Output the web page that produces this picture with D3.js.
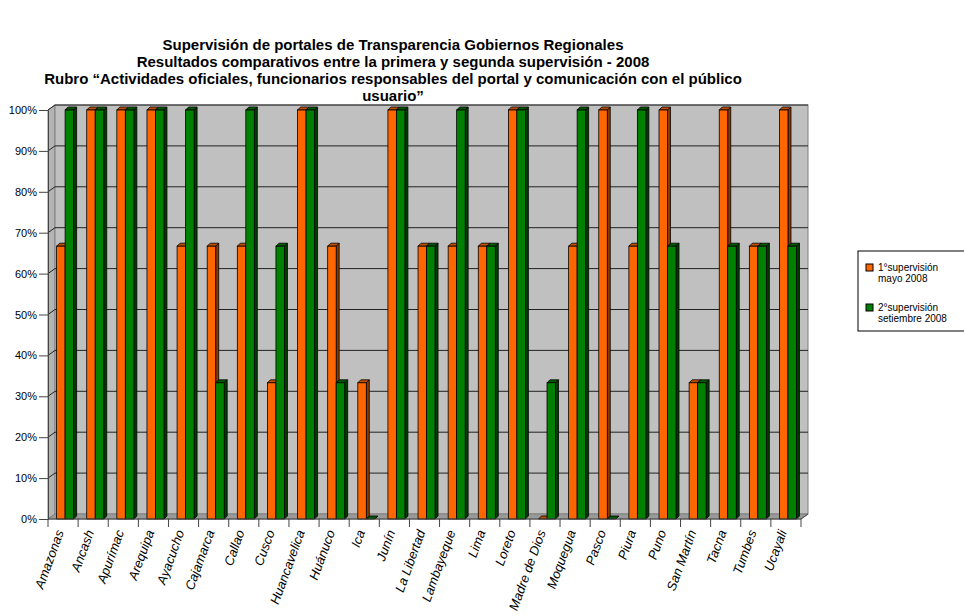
<!DOCTYPE html>
<html>
<head>
<meta charset="utf-8">
<script src="https://cdn.jsdelivr.net/npm/d3@7"></script>
<style>
  body { margin: 0; background: #fff; }
  svg { font-family: Arial, "Liberation Sans", sans-serif; }
</style>
</head>
<body>
<svg width="964" height="616"></svg>
<script>
// data
var regiones = ["Amazonas", "Ancash", "Apurímac", "Arequipa", "Ayacucho", "Cajamarca", "Callao",
  "Cusco", "Huancavelica", "Huánuco", "Ica", "Junín", "La Libertad", "Lambayeque", "Lima",
  "Loreto", "Madre de Dios", "Moquegua", "Pasco", "Piura", "Puno", "San Martín", "Tacna",
  "Tumbes", "Ucayali"];
var primera = [66.7, 100, 100, 100, 66.7, 66.7, 66.7, 33.3, 100, 66.7, 33.3, 100, 66.7, 66.7,
  66.7, 100, 0, 66.7, 100, 66.7, 100, 33.3, 100, 66.7, 100];
var segunda = [100, 100, 100, 100, 100, 33.3, 100, 66.7, 100, 33.3, 0, 100, 66.7, 100,
  66.7, 100, 33.3, 100, 0, 100, 66.7, 33.3, 66.7, 66.7, 66.7];
var seriesNames = ["1°supervisión mayo 2008", "2°supervisión setiembre 2008"];
var yTicks = [0, 10, 20, 30, 40, 50, 60, 70, 80, 90, 100];
var titulo = [
  "Supervisión de portales de Transparencia Gobiernos Regionales",
  "Resultados comparativos entre la primera y segunda supervisión - 2008",
  "Rubro “Actividades oficiales, funcionarios responsables del portal y comunicación con el público",
  "usuario”"
];

var svg = d3.select("svg");
var colors = ["#ff6600", "#008000"];
var sideColors = ["#8a3a00", "#003c00"];
var topColors = ["#c04d00", "#005a00"];

var x0 = 48, x1 = 801, yBottom = 519, yTop = 110;
var dx = 7, dy = -5;      // wall depth
var bdx = 3, bdy = -3;    // bar depth

var x = d3.scaleBand().domain(regiones).range([x0, x1]);
var sub = d3.scaleBand().domain([0, 1]).range([8.6, 25.6]);
var y = d3.scaleLinear().domain([0, 100]).range([yBottom, yTop]);

// title
svg.append("g").selectAll("text")
  .data(titulo)
  .enter().append("text")
    .attr("x", 393)
    .attr("y", function(d, i) { return 50 + i * 17; })
    .attr("text-anchor", "middle")
    .attr("font-weight", "bold")
    .attr("font-size", 15)
    .text(function(d) { return d; });

// walls
var walls = svg.append("g");
// left side wall
walls.append("path")
  .attr("d", "M" + x0 + "," + y(0) + "L" + x0 + "," + y(100) + "L" + (x0 + dx) + "," + (y(100) + dy) +
    "L" + (x0 + dx) + "," + (y(0) + dy) + "Z")
  .attr("fill", "#b4b4b4").attr("stroke", "#808080");
// back wall
walls.append("rect")
  .attr("x", x0 + dx).attr("y", y(100) + dy)
  .attr("width", x1 - x0).attr("height", y(0) - y(100))
  .attr("fill", "#c0c0c0").attr("stroke", "#808080");
// floor
walls.append("path")
  .attr("d", "M" + x0 + "," + y(0) + "L" + x1 + "," + y(0) + "L" + (x1 + dx) + "," + (y(0) + dy) +
    "L" + (x0 + dx) + "," + (y(0) + dy) + "Z")
  .attr("fill", "#9a9a9a").attr("stroke", "#808080");

// gridlines
var grid = svg.append("g");
grid.selectAll("line.back")
  .data(yTicks.slice(1))
  .enter().append("line")
    .attr("x1", x0 + dx).attr("x2", x1 + dx)
    .attr("y1", function(d) { return y(d) + dy; })
    .attr("y2", function(d) { return y(d) + dy; })
    .attr("stroke", "#222").attr("stroke-width", 1);
grid.selectAll("line.side")
  .data(yTicks.slice(1))
  .enter().append("line")
    .attr("x1", x0).attr("x2", x0 + dx)
    .attr("y1", function(d) { return y(d); })
    .attr("y2", function(d) { return y(d) + dy; })
    .attr("stroke", "#222").attr("stroke-width", 1);

// bars
var data = [];
regiones.forEach(function(r, i) {
  data.push({ region: r, s: 0, v: primera[i] });
  data.push({ region: r, s: 1, v: segunda[i] });
});

var bars = svg.append("g").selectAll("g")
  .data(data)
  .enter().append("g");

bars.each(function(d) {
  var g = d3.select(this);
  var bx = x(d.region) + sub(d.s), bw = sub.bandwidth();
  var by = y(d.v), b0 = y(0);
  // side
  g.append("path")
    .attr("d", "M" + (bx + bw) + "," + b0 + "L" + (bx + bw) + "," + by + "L" + (bx + bw + bdx) + "," + (by + bdy) +
      "L" + (bx + bw + bdx) + "," + (b0 + bdy) + "Z")
    .attr("fill", sideColors[d.s]).attr("stroke", "#000").attr("stroke-width", 0.8);
  // top
  g.append("path")
    .attr("d", "M" + bx + "," + by + "L" + (bx + bw) + "," + by + "L" + (bx + bw + bdx) + "," + (by + bdy) +
      "L" + (bx + bdx) + "," + (by + bdy) + "Z")
    .attr("fill", topColors[d.s]).attr("stroke", "#000").attr("stroke-width", 0.8);
  // front
  if (d.v > 0) {
    g.append("rect")
      .attr("x", bx).attr("y", by)
      .attr("width", bw).attr("height", b0 - by)
      .attr("fill", colors[d.s]).attr("stroke", "#000").attr("stroke-width", 0.8);
  }
});

// y axis
var yAxis = svg.append("g")
  .attr("transform", "translate(" + x0 + ",0)")
  .call(d3.axisLeft(y).tickValues(yTicks).tickSize(9).tickPadding(2)
    .tickFormat(function(d) { return d + "%"; }));
yAxis.select(".domain").attr("stroke", "#444");
yAxis.selectAll(".tick line").attr("stroke", "#444");
yAxis.selectAll("text").attr("font-size", 11).attr("font-family", "Arial, 'Liberation Sans', sans-serif")
  .attr("fill", "#000");

// x axis
var xAxisG = svg.append("g");
xAxisG.append("line")
  .attr("x1", x0).attr("x2", x1).attr("y1", yBottom).attr("y2", yBottom)
  .attr("stroke", "#444");
xAxisG.append("line")
  .attr("x1", x1).attr("x2", x1 + dx).attr("y1", yBottom).attr("y2", yBottom + dy)
  .attr("stroke", "#444");
var tickPos = regiones.map(function(r) { return x(r); }).concat([x1]);
xAxisG.selectAll("line.tick")
  .data(tickPos)
  .enter().append("line")
    .attr("x1", function(d) { return d; }).attr("x2", function(d) { return d; })
    .attr("y1", yBottom).attr("y2", yBottom + 8)
    .attr("stroke", "#444");
xAxisG.selectAll("text")
  .data(regiones)
  .enter().append("text")
    .attr("transform", function(d) {
      return "translate(" + (x(d) + x.bandwidth() / 2 + 1) + "," + (yBottom + 13) + ") rotate(-70)";
    })
    .attr("text-anchor", "end")
    .attr("font-size", 13)
    .attr("font-style", "italic")
    .text(function(d) { return d; });

// legend
var legend = svg.append("g").attr("transform", "translate(858,251)");
legend.append("rect")
  .attr("x", 0).attr("y", 0).attr("width", 110).attr("height", 80)
  .attr("fill", "#fff").attr("stroke", "#000");
var items = legend.selectAll("g.item")
  .data(seriesNames)
  .enter().append("g")
    .attr("transform", function(d, i) { return "translate(8," + (13 + i * 40) + ")"; });
items.append("rect")
  .attr("width", 7).attr("height", 7)
  .attr("fill", function(d, i) { return colors[i]; })
  .attr("stroke", "#000");
items.append("text")
  .attr("x", 12).attr("y", 7)
  .attr("font-size", 10)
  .text(function(d) { return d.split(" ")[0]; });
items.append("text")
  .attr("x", 12).attr("y", 18)
  .attr("font-size", 10)
  .text(function(d) { return d.split(" ").slice(1).join(" "); });
</script>
</body>
</html>
